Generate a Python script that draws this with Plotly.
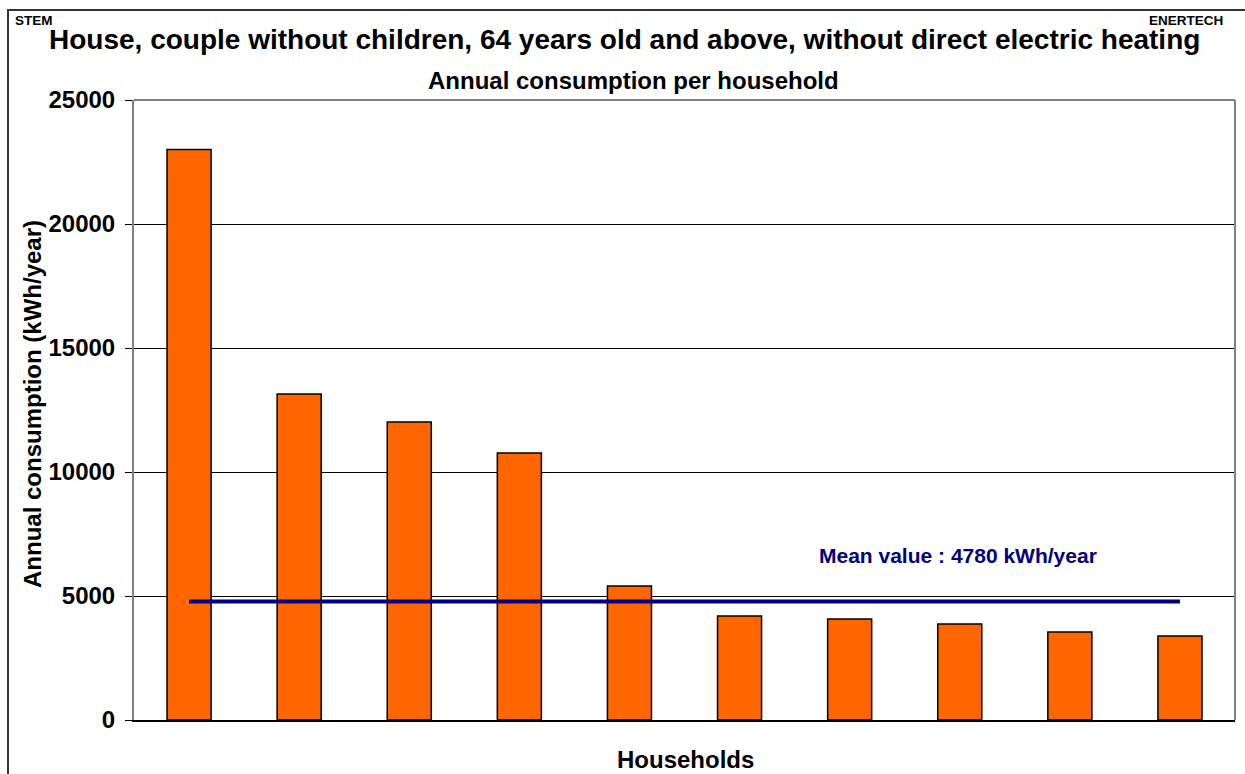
import plotly.graph_objects as go

# ---- data ----
households = [f"H{i}" for i in range(1, 11)]
consumption = [23000, 13150, 12020, 10770, 5400, 4190, 4070, 3870, 3550, 3390]
mean_value = 4780
y_ticks = [0, 5000, 10000, 15000, 20000, 25000]

title = "House, couple without children, 64 years old and above, without direct electric heating"
subtitle = "Annual consumption per household"
y_title = "Annual consumption (kWh/year)"
x_title = "Households"
mean_label = f"Mean value : {mean_value} kWh/year"

FONT = "Liberation Sans, Arial, sans-serif"
W, H = 1245, 774
L, R, T, B = 134, 10, 100, 54
pw, ph = W - L - R, H - T - B


def px_x(x):
    return (x - L) / pw


def px_y(y):
    return (H - B - y) / ph


fig = go.Figure()
fig.add_trace(go.Bar(
    x=households, y=consumption,
    marker=dict(color="#FF6600", line=dict(color="#000000", width=1.5)),
    showlegend=False, hoverinfo="x+y",
))
fig.add_trace(go.Scatter(
    x=[households[0], households[-1]], y=[mean_value, mean_value],
    mode="lines", line=dict(color="#000080", width=4),
    showlegend=False, hoverinfo="skip",
))


def note(text, x, y, size, color="black", xanchor="center", angle=0):
    return dict(text=text, x=px_x(x), y=px_y(y), xref="paper", yref="paper",
                xanchor=xanchor, yanchor="middle", textangle=angle, showarrow=False,
                font=dict(size=size, color=color, family=FONT))


ann = [
    note(f"<b>{title}</b>", 624, 39, 28),
    note(f"<b>{subtitle}</b>", 633, 81, 24),
    note("<b>STEM</b>", 13, 21, 13.5, xanchor="left"),
    note("<b>ENERTECH</b>", 1225, 21, 13.5, xanchor="right"),
    note(f"<b>{x_title}</b>", 685, 759, 24),
    note(f"<b>{y_title}</b>", 32, 404, 24, angle=-90),
    note(f"<b>{mean_label}</b>", 958, 555, 21, color="#000080"),
]

shapes = [
    # outer frame (cropped at right/bottom)
    dict(type="rect", xref="paper", yref="paper", x0=px_x(8), y0=px_y(800), x1=px_x(1260), y1=px_y(10),
         line=dict(color="#333333", width=2), fillcolor="rgba(0,0,0,0)", layer="below"),
    # plot area top & right border
    dict(type="line", xref="paper", yref="paper", x0=0, x1=1, y0=1, y1=1,
         line=dict(color="#808080", width=2)),
    dict(type="line", xref="paper", yref="paper", x0=1, x1=1, y0=0, y1=1,
         line=dict(color="#808080", width=2)),
]

fig.update_layout(
    width=W, height=H,
    margin=dict(l=L, r=R, t=T, b=B),
    paper_bgcolor="white", plot_bgcolor="white",
    bargap=0.6,
    annotations=ann, shapes=shapes,
    font=dict(family=FONT, color="black"),
)
fig.update_xaxes(showticklabels=False, showgrid=False, showline=True, linecolor="black",
                 linewidth=2, ticks="", zeroline=False)
fig.update_yaxes(range=[0, 25000], tickvals=y_ticks,
                 ticktext=[f"<b>{v}</b>" for v in y_ticks],
                 tickfont=dict(size=24, family=FONT, color="black"),
                 showgrid=True, gridcolor="black", gridwidth=1,
                 showline=True, linecolor="#808080", linewidth=2,
                 ticks="outside", ticklen=7, tickcolor="black", tickwidth=1,
                 zeroline=False, ticklabelstandoff=5)

fig.write_html("out.html", config={"displayModeBar": False},
               post_script="document.body.style.margin='0px';document.body.style.overflow='hidden';")
